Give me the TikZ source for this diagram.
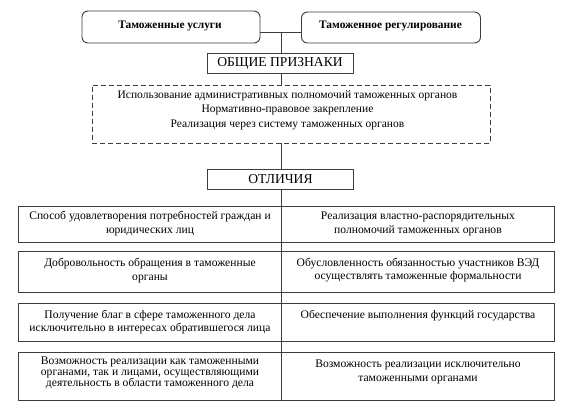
\documentclass[tikz,border=0pt]{standalone}
\usepackage{fontspec}
\setmainfont{Liberation Serif}
\usetikzlibrary{calc}
\definecolor{ln}{RGB}{60,60,60}
\tikzset{
  every node/.style={inner sep=0pt, outer sep=0pt},
  topbox/.style={draw=ln, line width=0.9pt, rounded corners=6pt, font=\fontsize{11.4}{13}\selectfont\bfseries},
  headbox/.style={draw=ln, line width=0.9pt, minimum width=146pt, minimum height=20pt, font=\fontsize{13.6}{15}\selectfont},
  dashbox/.style={draw=ln, line width=0.9pt, dash pattern=on 5pt off 3pt},
  cell/.style={draw=ln, line width=0.9pt},
  txt/.style={align=center, font=\fontsize{11.6}{13.8}\selectfont},
  tighttxt/.style={align=center, font=\fontsize{11.6}{11}\selectfont},
  conn/.style={draw=ln, line width=0.9pt}
}
\begin{document}
\begin{tikzpicture}[x=1pt, y=-1pt]
\useasboundingbox (0,0) rectangle (570,412);
% top boxes
\node[topbox, minimum width=178pt, minimum height=32pt] (usl) at (171,27) {};
\node[topbox, draw=none] (uslt) at (170,26) {Таможенные услуги};
\node[topbox, minimum width=179pt, minimum height=31pt] (reg) at (391,27.5) {};
\node[topbox, draw=none] (regt) at (390.5,26) {Таможенное регулирование};
\coordinate (j) at (281,32);
% headers
\node[headbox] (obsh) at (280,63) {ОБЩИЕ ПРИЗНАКИ};
\node[dashbox, minimum width=398pt, minimum height=58pt] (pr) at (291,114) {};
\node[txt, font=\fontsize{11.5}{14.5}\selectfont] (prt) at (287.5,110) {Использование административных полномочий таможенных органов\\Нормативно-правовое закрепление\\Реализация через систему таможенных органов};
\node[headbox] (otl) at (280.5,179) {ОТЛИЧИЯ};
% cells
\node[cell, minimum width=263.5pt, minimum height=36pt] (L1) at (149.75,224.7) {};
\node[cell, minimum width=272.5pt, minimum height=36pt] (R1) at (417.75,224.7) {};
\node[cell, minimum width=263.5pt, minimum height=41.7pt] (L2) at (149.75,271.85) {};
\node[cell, minimum width=272.5pt, minimum height=41.7pt] (R2) at (417.75,271.85) {};
\node[cell, minimum width=263.5pt, minimum height=38pt] (L3) at (149.75,322) {};
\node[cell, minimum width=272.5pt, minimum height=38pt] (R3) at (417.75,322) {};
\node[cell, minimum width=263.5pt, minimum height=48pt] (L4) at (149.75,376) {};
\node[cell, minimum width=272.5pt, minimum height=48pt] (R4) at (417.75,376) {};
% cell texts
\node[txt] (L1t) at (150,223.3) {Способ удовлетворения потребностей граждан и\\юридических лиц};
\node[txt] (R1t) at (418,223.7) {Реализация властно-распорядительных\\полномочий таможенных органов};
\node[txt] (L2t) at (150,270.5) {Добровольность обращения в таможенные\\органы};
\node[txt] (R2t) at (418,270) {Обусловленность обязанностью участников ВЭД\\осуществлять таможенные формальности};
\node[txt] (L3t) at (150,322) {Получение благ в сфере таможенного дела\\исключительно в интересах обратившегося лица};
\node[txt] (R3t) at (418,315.7) {Обеспечение выполнения функций государства};
\node[tighttxt] (L4t) at (150,373.3) {Возможность реализации как таможенными\\органами, так и лицами, осуществляющими\\деятельность в области таможенного дела};
\node[txt] (R4t) at (418,372) {Возможность реализации исключительно\\таможенными органами};
% connectors
\coordinate (bot) at (281.5,400);
\draw[conn] (usl.east |- j) -- (reg.west |- j);
\draw[conn] (j) -- (j |- obsh.north);
\draw[conn] (obsh.south -| j) -- (pr.north -| j);
\draw[conn] (pr.south -| j) -- (otl.north -| j);
\draw[conn] (otl.south -| bot) -- (bot);
\end{tikzpicture}
\end{document}
